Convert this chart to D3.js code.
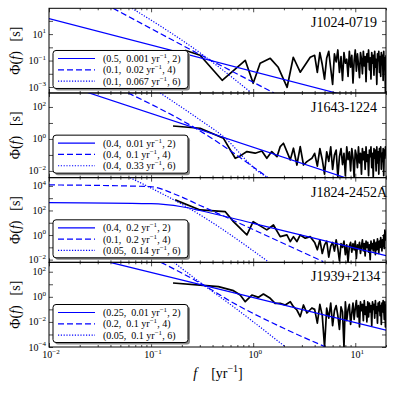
<!DOCTYPE html>
<html>
<head>
<meta charset="utf-8">
<script src="https://cdn.jsdelivr.net/npm/d3@7"></script>
<style>
  body { margin: 0; background: #fff; }
  svg { display: block; }
</style>
</head>
<body>
<svg id="chart" width="395" height="395"></svg>
<script>
// spectra and model curves are stored as [f (yr^-1), log10 Phi (s)]
const pulsars = ["J1024-0719", "J1643-1224", "J1824-2452A", "J1939+2134"];

const legend1 = [["0.5", "0.001", "2"], ["0.1", "0.02", "4"], ["0.1", "0.067", "6"]];
const legend2 = [["0.4", "0.01", "2"], ["0.4", "0.1", "4"], ["0.4", "0.33", "6"]];
const legend3 = [["0.4", "0.2", "2"], ["0.1", "0.2", "4"], ["0.05", "0.14", "6"]];
const legend4 = [["0.25", "0.01", "2"], ["0.2", "0.1", "4"], ["0.05", "0.1", "6"]];

// log10 range of each y axis and its labelled decades
const yRange1 = [-3.45, 2.95], yLabels1 = [-3, -1, 1];
const yRange2 = [-2.42, 2.875], yLabels2 = [-2, 0, 2];
const yRange3 = [-2.22, 4.67], yLabels3 = [-2, 0, 2, 4];
const yRange4 = [-4.0, 2.75], yLabels4 = [-4, -2, 0, 2];

const xLabels = [-2, -1, 0, 1];

// high-frequency part of the spectra share one grid
const freqDense = [4.0, 4.25, 4.5, 4.75, 5.0, 5.25, 5.5, 5.75, 6.0, 6.25, 6.5, 6.75, 7.0, 7.25, 7.5, 7.75,
  8.0, 8.25, 8.5, 8.75, 9.0, 9.25, 9.5, 9.75, 10.0, 10.25, 10.5, 10.75, 11.0, 11.25, 11.5, 11.75,
  12.0, 12.25, 12.5, 12.75, 13.0, 13.25, 13.5, 13.75, 14.0, 14.25, 14.5, 14.75, 15.0, 15.25, 15.5,
  15.75, 16.0, 16.25, 16.5, 16.75, 17.0, 17.25, 17.5, 17.75, 18.0, 18.25, 18.5, 18.75, 19.0, 19.25,
  19.5, 19.75, 20.0];

const fLow1 = [0.215, 0.302, 0.497, 0.836, 1.0, 1.17, 1.47, 1.76, 2.15, 2.47, 2.89, 3.36, 3.62];
const phiLow1 = [-0.22, -0.60, -2.49, -0.98, -2.72, -1.20, -0.83, -1.51, -3.02, -0.75, -1.88, -1.13, -0.75];
const phiDense1 = [-0.6, -1.9, -0.4, -1.3, -2.4, -0.8, -0.3, -1.6, -2.8, -0.5,
  -1.1, -0.2, -1.9, -0.7, -2.5, -0.4, -1.2, -0.9, -2.2, -0.3,
  -1.5, -0.6, -2.7, -1.0, -0.2, -1.8, -0.5, -1.3, -2.3, -0.4,
  -0.9, -2.0, -0.3, -1.4, -0.7, -2.6, -0.5, -1.1, -0.2, -1.7,
  -0.8, -2.4, -0.4, -1.2, -0.6, -2.1, -0.3, -1.5, -0.9, -2.8,
  -0.5, -1.0, -0.3, -1.9, -0.7, -2.2, -0.4, -1.3, -0.6, -2.5,
  -0.3, -1.6, -0.8, -3.4, -0.6];

const fLow2 = [0.164, 0.302, 0.512, 0.667, 0.746, 0.868, 1.046, 1.216, 1.36, 1.52, 1.71, 1.84, 1.98,
  2.14, 2.31, 2.48, 2.68, 2.89, 3.11, 3.36, 3.76];
const phiLow2 = [0.81, 0.67, 0.04, -1.21, -1.06, -0.79, -0.89, -0.75, -1.21, -0.79, -1.11, -0.48, -0.27,
  -0.79, -1.31, -0.58, -1.63, -0.48, -1.63, -1.42, -1.21];
const phiDense2 = [-0.9, -1.7, -0.6, -1.3, -2.2, -0.8, -1.4, -0.5, -1.9, -1.0,
  -0.7, -2.4, -1.1, -0.6, -1.6, -0.9, -2.3, -0.5, -1.3, -0.8,
  -2.0, -0.6, -1.2, -2.4, -0.7, -1.0, -1.8, -0.5, -1.5, -0.9,
  -2.2, -0.6, -1.3, -0.8, -1.9, -0.5, -1.4, -1.0, -2.3, -0.7,
  -1.1, -0.5, -1.8, -0.9, -2.4, -0.6, -1.2, -0.7, -2.0, -0.5,
  -1.5, -0.8, -2.2, -0.6, -1.1, -0.5, -1.9, -0.9, -1.4, -0.6,
  -2.3, -0.7, -1.2, -0.5, -1.0];

const fLow3 = [0.172, 0.302, 0.531, 0.641, 0.868, 1.0, 1.36, 1.58, 1.84, 2.14, 2.31, 2.48, 2.68, 2.89, 3.24, 3.62];
const phiLow3 = [2.86, 2.04, 1.91, 1.09, 0.01, 1.09, 0.42, 0.82, -0.13, 0.01, -0.53, -0.13, -0.53, 0.01, -0.26, -0.13];
const phiDense3 = [-0.6, -1.2, -0.4, -1.5, -0.8, -0.5, -1.8, -0.9, -0.6, -1.3,
  -0.4, -1.1, -2.1, -0.7, -1.0, -0.5, -1.6, -0.8, -2.2, -0.9,
  -0.6, -1.4, -0.7, -1.2, -0.5, -1.9, -0.8, -1.1, -0.6, -1.5,
  -0.9, -0.4, -1.3, -0.7, -1.7, -0.5, -1.0, -0.6, -1.4, -0.8,
  -2.0, -0.5, -1.1, -0.7, -1.3, -0.4, -0.9, -1.6, -0.6, -1.2,
  -0.3, -0.8, -1.5, -0.5, -1.0, -0.2, -0.7, -1.3, -0.4, -0.9,
  0.0, -1.1, 0.4, -0.4, 0.3];

const fLow4 = [0.164, 0.302, 0.457, 0.641, 0.746, 0.836, 0.971, 1.127, 1.26, 1.47, 1.64, 1.84, 2.06,
  2.31, 2.48, 2.68, 2.89, 3.11, 3.36, 3.76];
const phiLow4 = [1.10, 0.94, 0.81, 0.49, 0.14, -0.39, 0.14, -0.04, 0.22, -0.12, -0.52, -0.52, -0.65,
  -0.39, -0.79, -1.05, -1.58, -0.65, -1.29, -0.89];
const phiDense4 = [-1.0, -2.1, -0.6, -1.5, -4.0, -0.9, -1.7, -0.5, -2.3, -1.1,
  -0.7, -1.5, -2.6, -0.8, -1.2, -4.0, -0.4, -1.9, -1.0, -0.6,
  -2.2, -1.3, -0.5, -1.8, -0.9, -0.3, -1.6, -0.7, -2.4, -0.4,
  -1.1, -0.6, -1.9, -0.3, -1.4, -0.8, -2.0, -0.4, -1.6, -0.5,
  -1.2, -0.7, -2.3, -0.4, -1.0, -0.6, -1.7, -0.3, -1.3, -0.8,
  -2.1, -0.5, -1.1, -0.4, -1.5, -0.7, -2.2, -0.5, -1.2, -0.3,
  -0.9, -1.8, -0.4, -2.4, -0.6];

// model curves
const solid1 = [[0.01, 2.17], [20, -4.43]];
const dashed1 = [[0.0424, 2.95], [0.3, -0.54], [1.6, -3.45]];
const dotted1 = [[0.065, 2.95], [0.302, -0.42], [0.935, -3.37]];
const solid2 = [[0.02, 3.07], [10, -2.63]];
const dashed2 = [[0.0596, 2.875], [0.302, 0.5], [1.4, -2.42]];
const dotted2 = [[0.1225, 2.875], [0.302, 1.19], [0.512, 0.14], [1.17, -2.125], [1.4, -2.42]];
const solid3 = [[0.01, 2.64], [0.1, 2.55], [0.2, 2.3], [0.3, 2.0], [1, 0.95], [20, -1.68]];
const dashed3 = [[0.01, 4.08], [0.0977, 3.94], [0.179, 3.26], [0.302, 2.41], [4.86, -2.16]];
const dotted3 = [[0.0622, 4.67], [0.302, 1.64], [1.4, -2.16]];
const solid4 = [[0.0396, 2.75], [20, -2.66]];
const dashed4 = [[0.125, 2.75], [0.302, 1.1], [0.641, -0.49], [1.97, -2.49], [5.08, -3.98]];
const dotted4 = [[0.167, 2.75], [0.302, 1.15], [0.641, -0.79], [2.06, -3.98]];

const panels = [
  {name: pulsars[0], leg: legend1, yr: yRange1, yl: yLabels1, f: fLow1.concat(freqDense), phi: phiLow1.concat(phiDense1), models: [solid1, dashed1, dotted1]},
  {name: pulsars[1], leg: legend2, yr: yRange2, yl: yLabels2, f: fLow2.concat(freqDense), phi: phiLow2.concat(phiDense2), models: [solid2, dashed2, dotted2]},
  {name: pulsars[2], leg: legend3, yr: yRange3, yl: yLabels3, f: fLow3.concat(freqDense), phi: phiLow3.concat(phiDense3), models: [solid3, dashed3, dotted3]},
  {name: pulsars[3], leg: legend4, yr: yRange4, yl: yLabels4, f: fLow4.concat(freqDense), phi: phiLow4.concat(phiDense4), models: [solid4, dashed4, dotted4]}
];

const serif = "'Liberation Serif', 'DejaVu Serif', serif";
const mL = 49, mR = 386, mT = 8.3, mB = 347;
const ph = (mB - mT) / 4;
const dashes = [null, "6,3", "1.2,1.6"];

const svg = d3.select("#chart");
const x = d3.scaleLog().domain([0.01, 20]).range([mL, mR]);

const xMinor = [];
[0.01, 0.1, 1, 10].forEach(d => { for (let m = 2; m <= 9; m++) if (d * m <= 20) xMinor.push(d * m); });

function powLabel(sel, e, size) {
  sel.text(null);
  sel.append("tspan").text("10");
  sel.append("tspan").attr("font-size", size * 0.7).attr("dy", -size * 0.42)
    .text(e < 0 ? "\u2212" + (-e) : e);
}

panels.forEach((p, i) => {
  const y0 = mT + i * ph, y1 = y0 + ph;
  const y = d3.scaleLog().domain([10 ** p.yr[0], 10 ** p.yr[1]]).range([y1, y0]);
  const g = svg.append("g");

  svg.append("clipPath").attr("id", "clip" + i)
    .append("rect").attr("x", mL).attr("y", y0).attr("width", mR - mL).attr("height", ph);

  const plot = g.append("g").attr("clip-path", "url(#clip" + i + ")");
  const line = d3.line().x(d => x(d[0])).y(d => y(10 ** d[1]));

  // spectrum
  plot.append("path")
    .datum(p.f.map((f, k) => [f, p.phi[k]]))
    .attr("fill", "none").attr("stroke", "#000").attr("stroke-width", 1.7)
    .attr("stroke-linejoin", "round")
    .attr("d", line.curve(d3.curveLinear));

  // models
  p.models.forEach((m, k) => {
    plot.append("path").datum(m)
      .attr("fill", "none").attr("stroke", "#0000ff").attr("stroke-width", 1.2)
      .attr("stroke-dasharray", dashes[k])
      .attr("d", line.curve(d3.curveMonotoneX));
  });

  // ticks, inward on all sides
  const majX = xLabels.map(e => 10 ** e);
  const ax = [
    [d3.axisBottom(x).tickValues(majX).tickSize(-4), y1],
    [d3.axisBottom(x).tickValues(xMinor).tickSize(-2), y1],
    [d3.axisTop(x).tickValues(majX).tickSize(-4), y0],
    [d3.axisTop(x).tickValues(xMinor).tickSize(-2), y0]
  ];
  ax.forEach(([a, ty]) => {
    const s = g.append("g").attr("transform", `translate(0,${ty})`).call(a.tickFormat(""));
    s.select(".domain").remove();
    s.selectAll("line").attr("stroke", "#000").attr("stroke-width", 0.7);
  });

  const decs = d3.range(Math.ceil(p.yr[0]), Math.floor(p.yr[1]) + 1).map(e => 10 ** e);
  [[d3.axisLeft(y), mL], [d3.axisRight(y), mR]].forEach(([a, tx]) => {
    const s = g.append("g").attr("transform", `translate(${tx},0)`)
      .call(a.tickValues(decs).tickSize(-4).tickFormat(""));
    s.select(".domain").remove();
    s.selectAll("line").attr("stroke", "#000").attr("stroke-width", 0.7);
  });

  // y tick labels
  g.append("g").selectAll("text").data(p.yl).join("text")
    .attr("x", mL - 3).attr("y", d => y(10 ** d) + 3.5)
    .attr("text-anchor", "end").attr("font-family", serif).attr("font-size", 10)
    .each(function(d) { powLabel(d3.select(this), d, 10); });

  // frame
  g.append("rect").attr("x", mL).attr("y", y0).attr("width", mR - mL).attr("height", ph)
    .attr("fill", "none").attr("stroke", "#000").attr("stroke-width", 1);

  // pulsar name
  g.append("text").attr("x", 311).attr("y", y0 + 19)
    .attr("font-family", serif).attr("font-size", 14).text(p.name);

  // y title
  const yt = g.append("text")
    .attr("transform", `translate(20,${(y0 + y1) / 2}) rotate(-90)`)
    .attr("text-anchor", "middle").attr("font-family", serif).attr("font-size", 14);
  yt.append("tspan").text("\u03A6(");
  yt.append("tspan").attr("font-style", "italic").text("f");
  yt.append("tspan").text(")\u2002\u2009[s]");

  // legend
  const lx = 53, lh = 38, lw = 135, ly = y1 - 4.5 - lh;
  const lg = g.append("g").attr("transform", `translate(${lx},${ly})`);
  lg.append("rect").attr("x", 2).attr("y", 2).attr("width", lw).attr("height", lh)
    .attr("rx", 3).attr("fill", "#888");
  lg.append("rect").attr("width", lw).attr("height", lh).attr("rx", 3)
    .attr("fill", "#fff").attr("stroke", "#000").attr("stroke-width", 1);
  p.leg.forEach((r, k) => {
    const ry = 8 + k * 11.3;
    lg.append("line").attr("x1", 5).attr("x2", 42).attr("y1", ry).attr("y2", ry)
      .attr("stroke", "#0000ff").attr("stroke-width", 1.2).attr("stroke-dasharray", dashes[k]);
    const t = lg.append("text").attr("x", 50).attr("y", ry + 3.5)
      .attr("font-family", serif).attr("font-size", 10);
    t.append("tspan").text(`(${r[0]},\u2002${r[1]} yr`);
    t.append("tspan").attr("font-size", 7).attr("dy", -4).text("\u22121");
    t.append("tspan").attr("dy", 4).text(`, ${r[2]})`);
  });
});

// x tick labels on the bottom panel
svg.append("g").selectAll("text").data(xLabels).join("text")
  .attr("x", d => x(10 ** d) + 2).attr("y", mB + 11)
  .attr("text-anchor", "middle").attr("font-family", serif).attr("font-size", 10)
  .each(function(d) { powLabel(d3.select(this), d, 10); });

// x title
const xt = svg.append("text").attr("x", 218).attr("y", 378)
  .attr("text-anchor", "middle").attr("font-family", serif).attr("font-size", 14);
xt.append("tspan").attr("font-style", "italic").text("f");
xt.append("tspan").text("\u2003[yr");
xt.append("tspan").attr("font-size", 10).attr("dy", -6).text("\u22121");
xt.append("tspan").attr("dy", 6).text("]");
</script>
</body>
</html>
